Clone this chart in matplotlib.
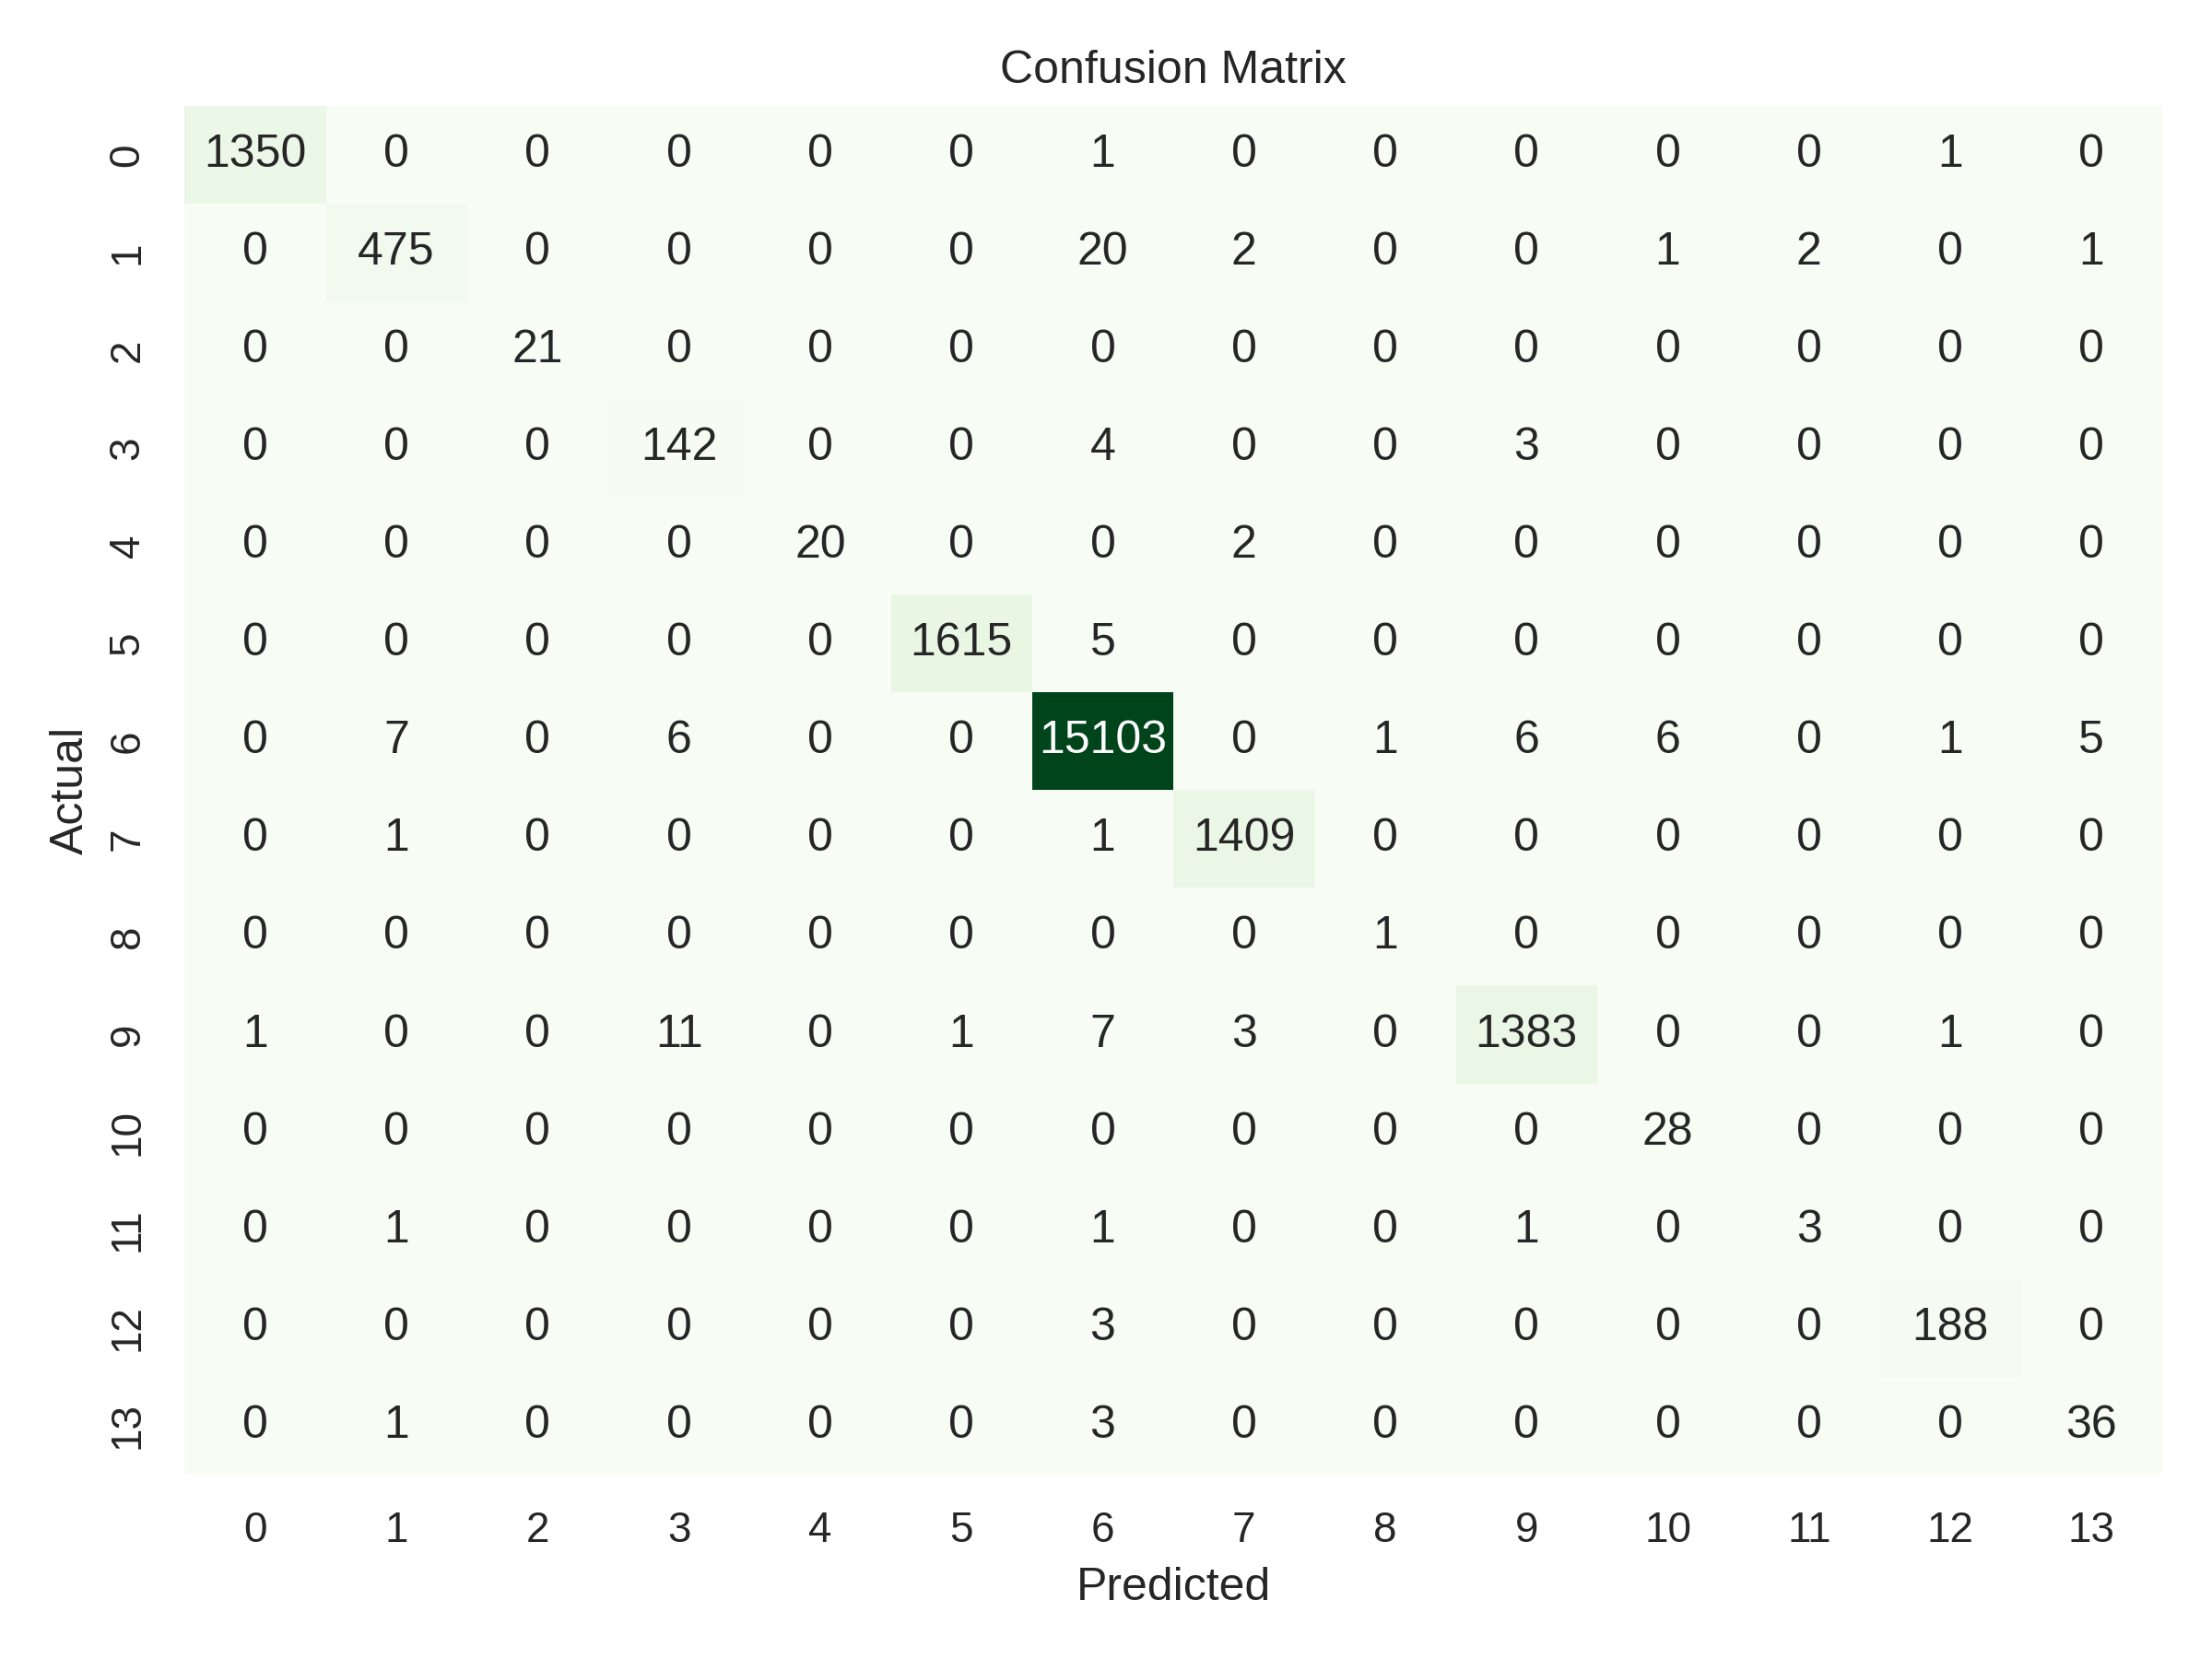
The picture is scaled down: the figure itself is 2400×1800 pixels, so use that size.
import numpy as np
import matplotlib
matplotlib.use("Agg")
import matplotlib.pyplot as plt
import seaborn as sns

labels = [str(i) for i in range(14)]

row0 = [1350, 0, 0, 0, 0, 0, 1, 0, 0, 0, 0, 0, 1, 0]
row1 = [0, 475, 0, 0, 0, 0, 20, 2, 0, 0, 1, 2, 0, 1]
row2 = [0, 0, 21, 0, 0, 0, 0, 0, 0, 0, 0, 0, 0, 0]
row3 = [0, 0, 0, 142, 0, 0, 4, 0, 0, 3, 0, 0, 0, 0]
row4 = [0, 0, 0, 0, 20, 0, 0, 2, 0, 0, 0, 0, 0, 0]
row5 = [0, 0, 0, 0, 0, 1615, 5, 0, 0, 0, 0, 0, 0, 0]
row6 = [0, 7, 0, 6, 0, 0, 15103, 0, 1, 6, 6, 0, 1, 5]
row7 = [0, 1, 0, 0, 0, 0, 1, 1409, 0, 0, 0, 0, 0, 0]
row8 = [0, 0, 0, 0, 0, 0, 0, 0, 1, 0, 0, 0, 0, 0]
row9 = [1, 0, 0, 11, 0, 1, 7, 3, 0, 1383, 0, 0, 1, 0]
row10 = [0, 0, 0, 0, 0, 0, 0, 0, 0, 0, 28, 0, 0, 0]
row11 = [0, 1, 0, 0, 0, 0, 1, 0, 0, 1, 0, 3, 0, 0]
row12 = [0, 0, 0, 0, 0, 0, 3, 0, 0, 0, 0, 0, 188, 0]
row13 = [0, 1, 0, 0, 0, 0, 3, 0, 0, 0, 0, 0, 0, 36]

cm = np.array([row0, row1, row2, row3, row4, row5, row6, row7,
               row8, row9, row10, row11, row12, row13])

sns.set_theme(style="white")
plt.rcParams['font.family'] = ['Liberation Sans', 'DejaVu Sans']

fig = plt.figure(figsize=(8, 6), dpi=300)
ax = sns.heatmap(cm, annot=True, fmt="d", cmap="Greens", cbar=False,
                 xticklabels=labels, yticklabels=labels)
plt.title("Confusion Matrix")
plt.xlabel("Predicted")
plt.ylabel("Actual")
plt.tight_layout()
plt.savefig("out.png", dpi=300)
